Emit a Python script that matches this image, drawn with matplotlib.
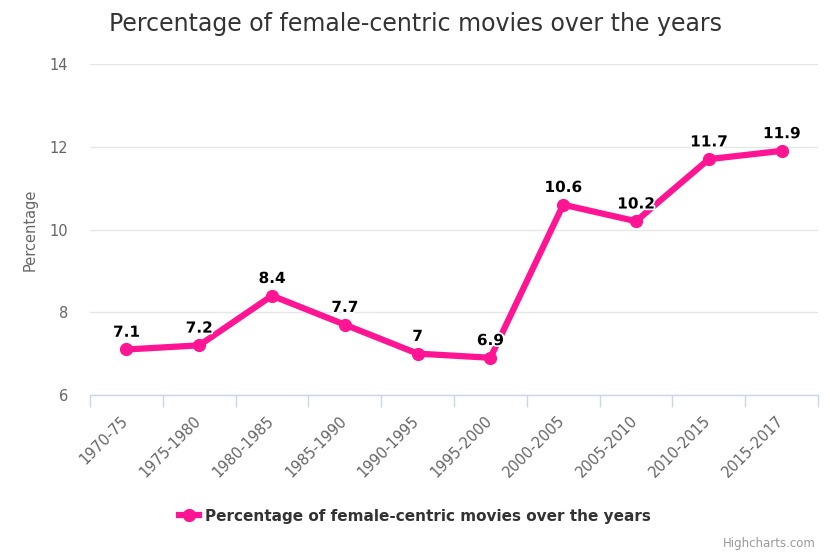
import numpy as np
import matplotlib
matplotlib.use("Agg")
from matplotlib import pyplot as plt
import matplotlib.patheffects as pe
import matplotlib.transforms as mtrans
from matplotlib.lines import Line2D

# data
periods = ['1970-75', '1975-1980', '1980-1985', '1985-1990', '1990-1995',
           '1995-2000', '2000-2005', '2005-2010', '2010-2015', '2015-2017']
percent = [7.1, 7.2, 8.4, 7.7, 7.0, 6.9, 10.6, 10.2, 11.7, 11.9]
series_name = 'Percentage of female-centric movies over the years'

plt.rcParams['font.family'] = ['DejaVu Sans']
pink = '#ff1493'

fig = plt.figure(figsize=(8.3, 5.54), dpi=100)
ax = fig.add_axes([90/830, 1-395/554, 728/830, 331/554])

x = np.arange(len(periods))
ax.plot(x, percent, color=pink, lw=4.5, marker='o', ms=8.5,
        solid_capstyle='round', solid_joinstyle='round', zorder=3)

# data labels
for xi, v in zip(x, percent):
    lab = ('%g' % v)
    ax.annotate(lab, (xi, v), xytext=(0, 7), textcoords='offset points',
                ha='center', va='bottom', fontsize=11, fontweight='bold',
                color='black', zorder=4,
                path_effects=[pe.withStroke(linewidth=2.5, foreground='white')])

ax.set_xlim(-0.5, len(periods) - 0.5)
ax.set_ylim(6, 14)
ax.set_yticks([6, 8, 10, 12, 14])
ax.yaxis.grid(True, color='#e6e6e6', lw=1)
ax.set_axisbelow(True)

# category labels, rotated, right end just under each point
ax.set_xticks(x)
ax.set_xticklabels([])
ax.tick_params(axis='x', which='major', length=0)
lab_tr = ax.get_xaxis_transform() + mtrans.ScaledTranslation(-6/100, -18/100, fig.dpi_scale_trans)
for xi, name in zip(x, periods):
    ax.text(xi, 0, name, transform=lab_tr, rotation=45, ha='right', va='top',
            rotation_mode='anchor', fontsize=10.5, color='#666666')
ax.set_xticks(np.arange(-0.5, len(periods)), minor=True)
ax.tick_params(axis='x', which='minor', length=8.5, width=1, color='#ccd6eb')
ax.tick_params(axis='y', length=0, pad=16, labelsize=10.5, labelcolor='#666666')

for s in ['top', 'right', 'left']:
    ax.spines[s].set_visible(False)
ax.spines['bottom'].set_color('#ccd6eb')
ax.spines['bottom'].set_linewidth(1)

ax.set_ylabel('Percentage', fontsize=10.5, color='#666666', labelpad=8)

fig.text(0.5, 1-24/554, 'Percentage of female-centric movies over the years',
         ha='center', va='center', fontsize=17, color='#333333')

# legend
handle = Line2D([], [], color=pink, lw=4.5, marker='o', ms=8.5)
fig.legend([handle], [series_name], loc='center', bbox_to_anchor=(0.5, 1-516/554),
           frameon=False, prop={'size': 11, 'weight': 'bold'}, handlelength=1.3,
           handletextpad=0.4, labelcolor='#333333')

fig.text(1-14/830, 1-543/554, 'Highcharts.com', ha='right', va='center',
         fontsize=8.5, color='#999999')

fig.savefig('out.png', dpi=100)
